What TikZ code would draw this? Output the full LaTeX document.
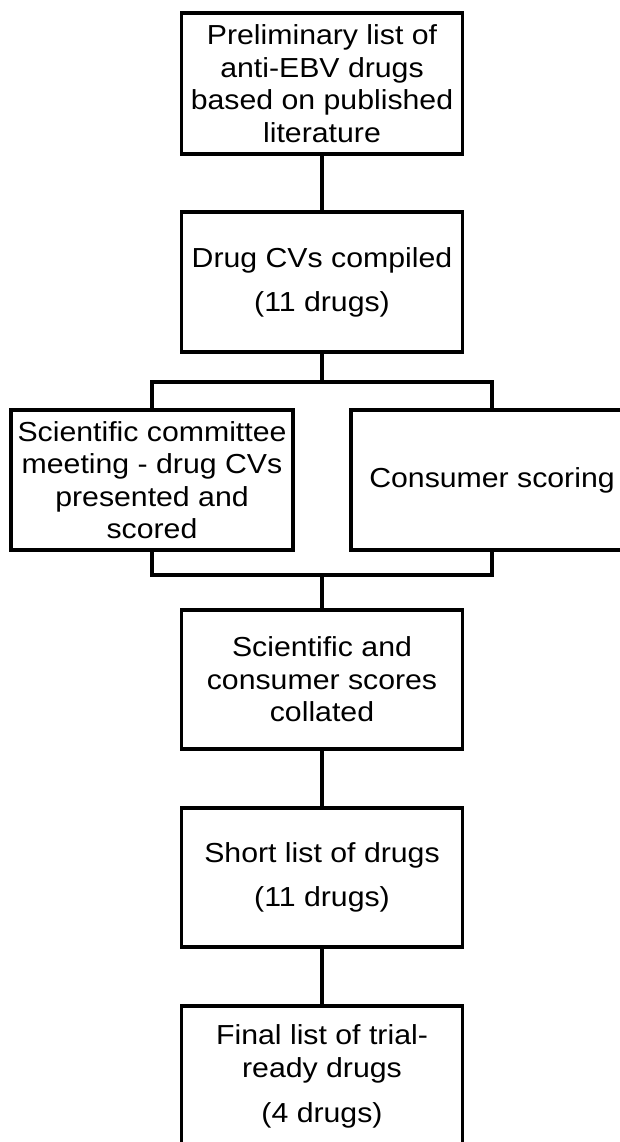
\documentclass[tikz,border=0pt]{standalone}
\usepackage{fontspec}
\setmainfont{Liberation Sans}[FakeStretch=1.1]
\begin{document}
\begin{tikzpicture}[x=1pt,y=-1pt,
  box/.style={draw=black, line width=3.2pt, fill=white, inner sep=0pt, align=center,
    font=\fontsize{27.5}{32.5}\selectfont},
  conn/.style={draw=black, line width=3.2pt}]
\useasboundingbox (0,0) rectangle (620,1142);
\clip (0,0) rectangle (620,1142);
\fill[white] (0,0) rectangle (620,1142);
\node[box, minimum width=281pt, minimum height=141pt] (b1) at (322,83.5)
  {Preliminary list of\\anti-EBV drugs\\based on published\\literature};
\node[box, minimum width=281pt, minimum height=140pt] (b2) at (322,282)
  {Drug CVs compiled\\[11.5pt](11 drugs)};
\node[box, minimum width=282pt, minimum height=140pt] (b3) at (152,480)
  {Scientific committee\\meeting - drug CVs\\presented and\\scored};
\node[box, minimum width=282pt, minimum height=140pt] (b4) at (492,480)
  {Consumer scoring};
\node[box, minimum width=281pt, minimum height=139pt] (b5) at (322,679.5)
  {Scientific and\\consumer scores\\collated};
\node[box, minimum width=281pt, minimum height=139pt] (b6) at (322,877.5)
  {Short list of drugs\\[11.5pt](11 drugs)};
\node[box, minimum width=281pt, minimum height=141pt] (b7) at (322,1076.5)
  {Final list of trial-\\ready drugs\\[13pt](4 drugs)};
\coordinate (j1) at (322,382);
\coordinate (j2) at (322,575);
\draw[conn] (b1.south) -- (b2.north);
\draw[conn] (b2.south) -- (j1);
\draw[conn] (b3.north) |- (j1) -| (b4.north);
\draw[conn] (b3.south) |- (j2) -| (b4.south);
\draw[conn] (j2) -- (b5.north);
\draw[conn] (b5.south) -- (b6.north);
\draw[conn] (b6.south) -- (b7.north);
\end{tikzpicture}
\end{document}
